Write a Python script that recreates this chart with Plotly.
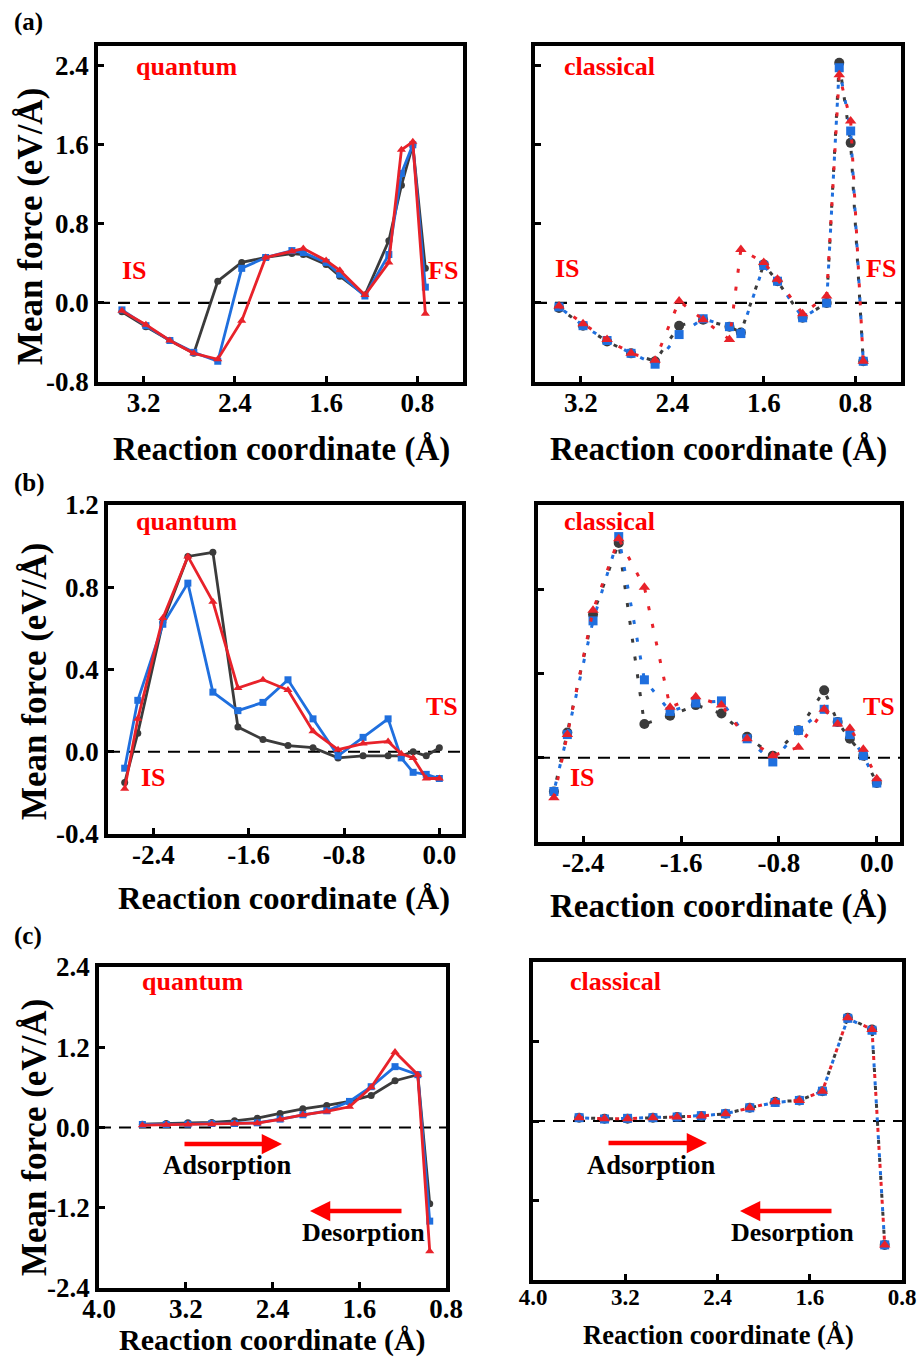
import plotly.graph_objects as go

W, H = 920, 1357

# ---------------- data ----------------
xa = [3.39, 3.18, 2.97, 2.76, 2.55, 2.34, 2.13, 1.90, 1.80, 1.60, 1.48, 1.26, 1.05, 0.94, 0.84, 0.73]
a_q_black = [-0.09, -0.24, -0.38, -0.51, 0.22, 0.41, 0.46, 0.50, 0.49, 0.39, 0.27, 0.08, 0.63, 1.19, 1.60, 0.35]
a_q_blue = [-0.07, -0.23, -0.38, -0.50, -0.59, 0.35, 0.46, 0.53, 0.51, 0.41, 0.29, 0.07, 0.49, 1.31, 1.60, 0.16]
a_q_red = [-0.08, -0.22, -0.38, -0.51, -0.57, -0.18, 0.46, 0.52, 0.55, 0.43, 0.33, 0.08, 0.41, 1.55, 1.63, -0.11]
a_c_black = [-0.05, -0.23, -0.39, -0.51, -0.59, -0.23, -0.17, -0.24, -0.30, 0.39, 0.22, -0.15, 0.00, 2.43, 1.62, -0.59]
a_c_blue = [-0.04, -0.23, -0.38, -0.51, -0.62, -0.32, -0.16, -0.24, -0.31, 0.38, 0.22, -0.15, 0.00, 2.38, 1.74, -0.59]
a_c_red = [-0.03, -0.21, -0.37, -0.51, -0.58, 0.02, -0.17, -0.37, 0.54, 0.41, 0.24, -0.11, 0.07, 2.31, 1.84, -0.59]

xb = [-2.64, -2.53, -2.32, -2.11, -1.90, -1.69, -1.48, -1.27, -1.06, -0.85, -0.64, -0.43, -0.32, -0.22, -0.11, 0.0]
b_q_black = [-0.15, 0.09, 0.63, 0.95, 0.97, 0.12, 0.06, 0.03, 0.02, -0.03, -0.02, -0.02, -0.02, 0.00, -0.02, 0.02]
b_q_blue = [-0.08, 0.25, 0.62, 0.82, 0.29, 0.20, 0.24, 0.35, 0.16, -0.02, 0.07, 0.16, -0.03, -0.10, -0.11, -0.13]
b_q_red = [-0.18, 0.16, 0.65, 0.95, 0.73, 0.31, 0.35, 0.30, 0.10, 0.01, 0.04, 0.05, -0.01, -0.03, -0.13, -0.13]
b_c_black = [-0.16, 0.12, 0.68, 1.02, 0.16, 0.20, 0.25, 0.21, 0.10, 0.01, 0.13, 0.32, 0.17, 0.09, 0.01, -0.12]
b_c_blue = [-0.16, 0.11, 0.65, 1.05, 0.37, 0.22, 0.26, 0.27, 0.09, -0.02, 0.13, 0.23, 0.17, 0.11, 0.01, -0.12]
b_c_red = [-0.19, 0.11, 0.70, 1.04, 0.81, 0.24, 0.29, 0.25, 0.09, 0.01, 0.05, 0.23, 0.16, 0.14, 0.04, -0.10]

xc = [3.60, 3.38, 3.18, 2.96, 2.75, 2.54, 2.33, 2.12, 1.90, 1.69, 1.49, 1.27, 1.06, 0.95]
c_q_black = [0.05, 0.06, 0.07, 0.075, 0.10, 0.14, 0.21, 0.28, 0.33, 0.39, 0.48, 0.70, 0.79, -1.14]
c_q_blue = [0.045, 0.045, 0.05, 0.06, 0.06, 0.07, 0.125, 0.19, 0.25, 0.39, 0.61, 0.91, 0.79, -1.40]
c_q_red = [0.035, 0.04, 0.045, 0.05, 0.055, 0.065, 0.12, 0.19, 0.24, 0.31, 0.60, 1.13, 0.79, -1.85]
c_c_black = [0.05, 0.035, 0.035, 0.05, 0.06, 0.075, 0.11, 0.20, 0.29, 0.31, 0.45, 1.56, 1.38, -1.87]
c_c_blue = [0.05, 0.03, 0.04, 0.05, 0.06, 0.08, 0.11, 0.20, 0.28, 0.31, 0.45, 1.55, 1.37, -1.87]
c_c_red = [0.05, 0.035, 0.035, 0.05, 0.06, 0.075, 0.11, 0.20, 0.29, 0.31, 0.45, 1.56, 1.38, -1.87]

xt_a = [3.2, 2.4, 1.6, 0.8]
xt_a_text = ["3.2", "2.4", "1.6", "0.8"]
yt_a = [-0.8, 0.0, 0.8, 1.6, 2.4]
yt_a_text = ["-0.8", "0.0", "0.8", "1.6", "2.4"]
xt_b = [-2.4, -1.6, -0.8, 0.0]
xt_b_text = ["-2.4", "-1.6", "-0.8", "0.0"]
yt_b = [-0.4, 0.0, 0.4, 0.8, 1.2]
yt_b_text = ["-0.4", "0.0", "0.4", "0.8", "1.2"]
xt_c = [4.0, 3.2, 2.4, 1.6, 0.8]
xt_c_text = ["4.0", "3.2", "2.4", "1.6", "0.8"]
yt_c = [-2.4, -1.2, 0.0, 1.2, 2.4]
yt_c_text = ["-2.4", "-1.2", "0.0", "1.2", "2.4"]

# ---------------- style ----------------
FONT = "Liberation Serif"
BLACK = "#3b3b3b"
BLUE = "#1f6fde"
RED = "#e8222a"
TXTRED = "#ff0000"

def px_x(p):
    return p / W

def px_y(p):
    return 1 - p / H

# panel boxes in pixels: (x0, x1, ytop, ybottom)
panels = [
    dict(box=(98, 463, 46, 382), xr=[3.6, 0.4], yr=[-0.8, 2.6], xt=(xt_a, xt_a_text), yt=(yt_a, yt_a_text), ylab=True, tf=27),
    dict(box=(535, 901, 46, 382), xr=[3.6, 0.4], yr=[-0.8, 2.6], xt=(xt_a, xt_a_text), yt=(yt_a, yt_a_text), ylab=False, tf=27),
    dict(box=(108, 462, 505, 834), xr=[-2.78, 0.19], yr=[-0.4, 1.2], xt=(xt_b, xt_b_text), yt=(yt_b, yt_b_text), ylab=True, tf=27),
    dict(box=(538, 900, 505, 842), xr=[-2.77, 0.19], yr=[-0.4, 1.2], xt=(xt_b, xt_b_text), yt=(yt_b, yt_b_text), ylab=False, tf=27),
    dict(box=(99, 446, 967, 1288), xr=[4.0, 0.8], yr=[-2.4, 2.4], xt=(xt_c, xt_c_text), yt=(yt_c, yt_c_text), ylab=True, tf=27),
    dict(box=(533, 902, 962, 1280), xr=[4.0, 0.8], yr=[-2.4, 2.4], xt=(xt_c, xt_c_text), yt=(yt_c, yt_c_text), ylab=False, tf=23),
]

fig = go.Figure()
layout = dict(
    template="none",
    width=W, height=H, margin=dict(l=0, r=0, t=0, b=0, pad=0, autoexpand=False),
    paper_bgcolor="white", plot_bgcolor="white", showlegend=False,
    font=dict(family=FONT, color="black"),
)
shapes = []
annotations = []

for i, p in enumerate(panels):
    n = "" if i == 0 else str(i + 1)
    x0, x1, yt, yb = p["box"]
    axis_common = dict(
        showline=True, mirror=True, linecolor="black", linewidth=3.5,
        ticks="inside", ticklen=6, tickwidth=2.5, tickcolor="black",
        showgrid=False, zeroline=False, automargin=False,
        tickfont=dict(family=FONT, size=p["tf"], color="black", weight="bold"),
        tickmode="array",
    )
    layout["xaxis" + n] = dict(
        axis_common, domain=[px_x(x0), px_x(x1)], range=p["xr"], anchor="y" + n,
        tickvals=p["xt"][0], ticktext=p["xt"][1], ticklabelstandoff=-6,
    )
    layout["yaxis" + n] = dict(
        axis_common, domain=[px_y(yb), px_y(yt)], range=p["yr"], anchor="x" + n,
        tickvals=p["yt"][0], ticktext=p["yt"][1], showticklabels=p["ylab"],
    )
    shapes.append(dict(type="line", xref="x" + n + " domain", yref="y" + n,
                       x0=0, x1=1, y0=0, y1=0,
                       line=dict(color="black", width=2.2, dash="12px,8px"), layer="below"))

def quantum(x, ys, n):
    specs = [(ys[0], BLACK, "circle", 7), (ys[1], BLUE, "square", 7), (ys[2], RED, "triangle-up", 8)]
    for y, c, sym, s in specs:
        fig.add_trace(go.Scatter(x=x, y=y, xaxis="x" + n, yaxis="y" + n, mode="lines+markers",
                                 line=dict(color=c, width=2.8),
                                 marker=dict(symbol=sym, size=s, color=c)))

def classical(x, ys, n):
    specs = [(ys[0], BLACK, "circle", 10, "0px,12px,4px,2px"),
             (ys[1], BLUE, "square", 9, "0px,6px,4px,8px"),
             (ys[2], RED, "triangle-up", 10, "4px,14px")]
    for y, c, sym, s, d in specs:
        fig.add_trace(go.Scatter(x=x, y=y, xaxis="x" + n, yaxis="y" + n, mode="lines+markers",
                                 line=dict(color=c, width=3, dash=d),
                                 marker=dict(symbol=sym, size=s, color=c)))

quantum(xa, (a_q_black, a_q_blue, a_q_red), "")
classical(xa, (a_c_black, a_c_blue, a_c_red), "2")
quantum(xb, (b_q_black, b_q_blue, b_q_red), "3")
classical(xb, (b_c_black, b_c_blue, b_c_red), "4")
quantum(xc, (c_q_black, c_q_blue, c_q_red), "5")
classical(xc, (c_c_black, c_c_blue, c_c_red), "6")

def text(t, x, y, size, color="black", angle=0, yanchor="middle"):
    annotations.append(dict(text=t, x=px_x(x), y=px_y(y), xref="paper", yref="paper",
                            xanchor="center", yanchor=yanchor, showarrow=False, textangle=angle,
                            borderpad=0,
                            font=dict(family=FONT, size=size, color=color, weight="bold")))

def arrow(xtail, xhead, y):
    annotations.append(dict(text="", x=px_x(xhead), y=px_y(y), xref="paper", yref="paper",
                            ax=xtail - xhead, ay=0, showarrow=True, arrowhead=2, arrowsize=0.9,
                            arrowwidth=4.5, arrowcolor=TXTRED, standoff=0, startstandoff=0))

# panel letters
text("(a)", 28, 22, 25)
text("(b)", 29, 483, 25)
text("(c)", 28, 936, 25)

# y-axis titles
text("Mean force (eV/Å)", 30, 227, 35, angle=-90)
text("Mean force (eV/Å)", 34, 682, 35, angle=-90)
text("Mean force (eV/Å)", 34, 1138, 35, angle=-90)

# x-axis titles
text("Reaction coordinate (Å)", 281, 449, 33)
text("Reaction coordinate (Å)", 718, 449, 33)
text("Reaction coordinate (Å)", 284, 898, 32.5)
text("Reaction coordinate (Å)", 718, 906, 33)
text("Reaction coordinate (Å)", 272, 1340, 30)
text("Reaction coordinate (Å)", 718, 1335, 26.5)

# labels inside panels
text("quantum", 186, 66, 26, TXTRED)
text("classical", 609, 66, 26, TXTRED)
text("quantum", 186, 521, 26, TXTRED)
text("classical", 609, 521, 26, TXTRED)
text("quantum", 192, 981, 26, TXTRED)
text("classical", 615, 981, 26, TXTRED)

text("IS", 134, 270, 26, TXTRED)
text("FS", 443, 270, 26, TXTRED)
text("IS", 567, 269, 26, TXTRED)
text("FS", 881, 269, 26, TXTRED)
text("IS", 153, 777, 26, TXTRED)
text("TS", 442, 706, 26, TXTRED)
text("IS", 582, 777, 26, TXTRED)
text("TS", 879, 706, 26, TXTRED)

text("Adsorption", 227, 1165, 26.5)
text("Desorption", 363, 1232, 26)
text("Adsorption", 651, 1165, 26.5)
text("Desorption", 792, 1232, 26)
arrow(183, 282, 1144)
arrow(403, 310, 1211)
arrow(607, 707, 1143)
arrow(833, 740, 1211)

layout["shapes"] = shapes
layout["annotations"] = annotations
fig.update_layout(**layout)
fig.write_html("out.html")
